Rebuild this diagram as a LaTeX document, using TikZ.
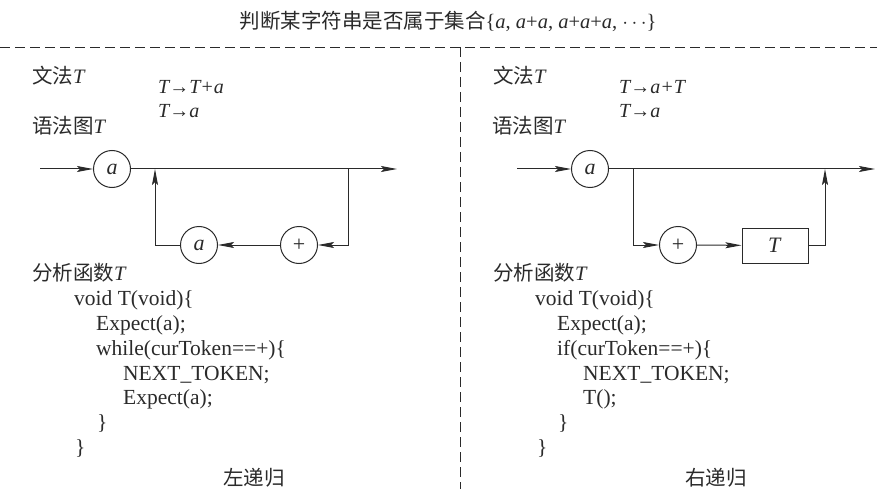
\documentclass[tikz,border=0pt]{standalone}
\usepackage{fontspec}
\setmainfont{Liberation Serif}
\newfontfamily\cjk{Noto Sans CJK SC}
\usetikzlibrary{arrows.meta}
\definecolor{ink}{HTML}{2A2A2A}
\begin{document}
\begin{tikzpicture}[x=1pt,y=-1pt,
  txt/.style={font=\fontsize{21.5}{24}\selectfont, inner sep=0pt, anchor=base west, text=ink},
  cj/.style={font=\fontsize{20.5}{24}\selectfont, inner sep=0pt, anchor=base west, text=ink},
  gram/.style={font=\fontsize{20}{22}\selectfont\itshape, inner sep=0pt, anchor=base west, text=ink},
  circ/.style={circle, draw=ink, minimum size=37pt, inner sep=0pt, line width=1pt, font=\fontsize{22}{24}\selectfont, text=ink},
  boxn/.style={rectangle, draw=ink, minimum width=66pt, minimum height=35pt, inner sep=0pt, line width=1pt, font=\fontsize{22}{24}\selectfont, text=ink},
  arr/.style={draw=ink, line width=1pt, -{Stealth[length=16pt,width=6pt,inset=3pt]}},
  dsh/.style={draw=ink, line width=0.9pt, dash pattern=on 10pt off 5pt}]
\useasboundingbox (0,0) rectangle (877,489);

% title
\node[cj, anchor=base] (title) at (448,29) {{\cjk 判断某字符串是否属于集合}\{\textit{a}, \textit{a}+\textit{a}, \textit{a}+\textit{a}+\textit{a}, $\cdots$\}};

% dashed separators
\coordinate (hl) at (0,47);
\coordinate (hr) at (877,47);
\coordinate (vt) at (460,47);
\coordinate (vb) at (460,489);
\draw[dsh] (hl) -- (hr);
\draw[dsh] (vt) -- (vb);

% ---------- left ----------
\node[cj] (Lg) at (32,84) {{\cjk 文法}\textit{T}};
\node[gram] (Lr1) at (158,94) {T→T+a};
\node[gram] (Lr2) at (158,118) {T→a};
\node[cj] (Ld) at (32,134) {{\cjk 语法图}\textit{T}};

\coordinate (Lin) at (40,169);
\node[circ] (La) at (112,169) {\textit{a}};
\coordinate (Lout) at (397,169);
\coordinate (Ljoin) at (155,169);
\coordinate (Lsplit) at (348,169);
\node[circ] (Lp) at (299,245) {+};
\node[circ] (La2) at (199,245) {\textit{a}};
\draw[arr] (Lin) -- (La);
\draw[arr] (La) -- (Lout);
\draw[arr] (Lsplit) |- (Lp);
\draw[arr] (Lp) -- (La2);
\draw[arr] (La2) -| (Ljoin);

\node[cj] (Lf) at (32,280) {{\cjk 分析函数}\textit{T}};
\node[txt] (Lc1) at (74,305) {void T(void)\{};
\node[txt] (Lc2) at (96,330) {Expect(a);};
\node[txt] (Lc3) at (96,355) {while(curToken==+)\{};
\node[txt] (Lc4) at (123,380) {NEXT\_TOKEN;};
\node[txt] (Lc5) at (123,404) {Expect(a);};
\node[txt] (Lc6) at (97,429) {\}};
\node[txt] (Lc7) at (75,454) {\}};
\node[cj, anchor=base] (Lcap) at (254,485) {\cjk 左递归};

% ---------- right ----------
\node[cj] (Rg) at (493,84) {{\cjk 文法}\textit{T}};
\node[gram] (Rr1) at (619,94) {T→a+T};
\node[gram] (Rr2) at (619,118) {T→a};
\node[cj] (Rd) at (492,134) {{\cjk 语法图}\textit{T}};

\coordinate (Rin) at (517,169);
\node[circ] (Ra) at (590,169) {\textit{a}};
\coordinate (Rout) at (875,169);
\coordinate (Rsplit) at (633,169);
\coordinate (Rjoin) at (825,169);
\node[circ] (Rp) at (678,245) {+};
\node[boxn] (RT) at (775,245.5) {\textit{T}};
\draw[arr] (Rin) -- (Ra);
\draw[arr] (Ra) -- (Rout);
\draw[arr] (Rsplit) |- (Rp);
\draw[arr] (Rp) -- (RT);
\draw[arr] (RT) -| (Rjoin);

\node[cj] (Rf) at (493,280) {{\cjk 分析函数}\textit{T}};
\node[txt] (Rc1) at (535,305) {void T(void)\{};
\node[txt] (Rc2) at (557,330) {Expect(a);};
\node[txt] (Rc3) at (557,355) {if(curToken==+)\{};
\node[txt] (Rc4) at (583,380) {NEXT\_TOKEN;};
\node[txt] (Rc5) at (583,404) {T();};
\node[txt] (Rc6) at (558,429) {\}};
\node[txt] (Rc7) at (537,454) {\}};
\node[cj, anchor=base] (Rcap) at (716,485) {\cjk 右递归};
\end{tikzpicture}
\end{document}
